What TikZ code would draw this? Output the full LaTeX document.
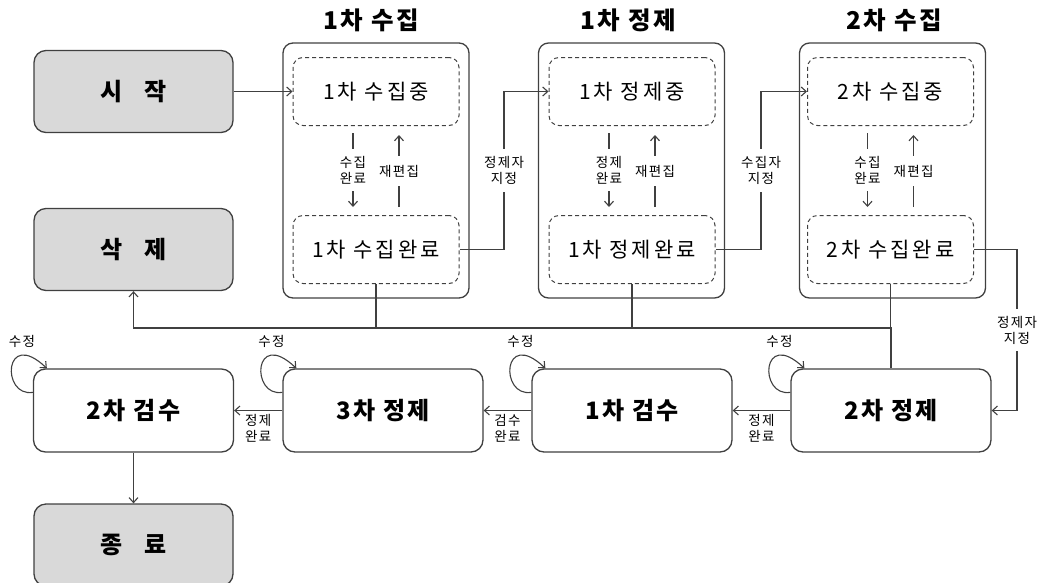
\documentclass[tikz,border=0pt]{standalone}
\usepackage{fontspec}
\setmainfont{Noto Sans CJK KR}
\newfontfamily\wideA{Noto Sans CJK KR}[LetterSpace=10]
\newfontfamily\wideB{Noto Sans CJK KR}[LetterSpace=14]
\usetikzlibrary{arrows.meta}
\definecolor{ln}{HTML}{404040}
\definecolor{gfill}{HTML}{D9D9D9}
\newcommand\kloop[1]{%
  \draw[conn,arr] ([yshift=-24pt]#1.north west) .. controls +(-32,5) and +(-43,-41) .. ([xshift=14pt]#1.north west);
  \node[lbl] (#1-lp) at ([xshift=-11pt,yshift=27pt]#1.north west) {수정};}
\begin{document}
\begin{tikzpicture}[x=1pt,y=-1pt,
  arr/.style={-{Straight Barb[length=5pt,width=9pt]}},
  conn/.style={draw=ln, line width=1.1pt},
  graybox/.style={draw=ln, line width=1.3pt, fill=gfill, rounded corners=12pt, minimum width=199pt, minimum height=82pt, font=\wideA\fontsize{24}{28}\selectfont\bfseries},
  group/.style={draw=ln, line width=1.3pt, rounded corners=10pt, minimum width=186pt, minimum height=255pt},
  dbox/.style={draw=ln, line width=1pt, dash pattern=on 4pt off 3pt, rounded corners=10pt, minimum width=166pt, minimum height=68pt, font=\wideB\fontsize{21}{25}\selectfont},
  state/.style={draw=ln, line width=1.3pt, fill=white, rounded corners=12pt, minimum width=200pt, minimum height=83pt, font=\wideA\fontsize{24}{28}\selectfont\bfseries},
  title/.style={font=\wideA\fontsize{24.5}{28}\selectfont\bfseries},
  lbl/.style={font=\wideA\fontsize{13.5}{16}\selectfont, align=center, text=black, inner sep=1pt},
  gap/.style={lbl, fill=white, inner ysep=7pt}
]
\useasboundingbox (0,0) rectangle (1039,582);

% start / delete / end
\node[graybox] (start) at (133.5,91.5) {시\hspace{0.9em}작};
\node[graybox] (del) at (133.5,249.5) {삭\hspace{0.9em}제};
\node[graybox] (end) at (133.5,545) {종\hspace{0.9em}료};

% groups
\node[group] (g1) at (376,170.5) {};
\node[group] (g2) at (631.5,170.5) {};
\node[group] (g3) at (892.5,170.5) {};
\node[title] (t1) at (371,20) {1차 수집};
\node[title] (t2) at (628,20) {1차 정제};
\node[title] (t3) at (894,20) {2차 수집};

\node[dbox] (d1a) at (376,91.5) {1차 수집중};
\node[dbox] (d1b) at (376,249.5) {1차 수집완료};
\node[dbox] (d2a) at (632,91.5) {1차 정제중};
\node[dbox] (d2b) at (632,249.5) {1차 정제완료};
\node[dbox] (d3a) at (890.5,91.5) {2차 수집중};
\node[dbox] (d3b) at (890.5,249.5) {2차 수집완료};

% bottom row
\node[state] (r2) at (133.5,410.5) {2차 검수};
\node[state] (r3) at (383,410.5) {3차 정제};
\node[state] (r1) at (632,410.5) {1차 검수};
\node[state] (r4) at (891,410.5) {2차 정제};

% inner arrows
\foreach \a/\b/\dn in {d1a/d1b/{수집\\완료}, d2a/d2b/{정제\\완료}, d3a/d3b/{수집\\완료}}{
  \draw[conn,arr] ([xshift=-23pt,yshift=-7pt]\a.south) -- node[gap]{\dn} ([xshift=-23pt,yshift=8pt]\b.north);
  \draw[conn,arr] ([xshift=23pt,yshift=8pt]\b.north) -- node[gap,inner ysep=9pt]{재편집} ([xshift=23pt,yshift=-9pt]\a.south);
}

% flow connectors
\coordinate (c1) at (504,249.5);
\coordinate (c2) at (761,249.5);
\coordinate (c3) at (1017,249.5);
\draw[conn,arr] (start.east) -- (d1a.west);
\draw[conn,arr] (d1b.east) -- (c1) |- node[pos=0.25,gap]{정제자\\지정} (d2a.west);
\draw[conn,arr] (d2b.east) -- (c2) |- node[pos=0.25,gap]{수집자\\지정} (d3a.west);
\draw[conn,arr] (d3b.east) -- (c3) |- node[pos=0.25,gap]{정제자\\지정} (r4.east);

% delete bus
\coordinate (busL) at (133.5,328);
\draw[conn,arr] (r4.north) |- (busL) -- (del.south);
\draw[conn] (d1b.south) -- (d1b.south |- busL);
\draw[conn] (d2b.south) -- (d2b.south |- busL);
\draw[conn] (d3b.south) -- (d3b.south |- busL);

% bottom flow
\draw[conn,arr] (r4.west) -- node[lbl,below=2pt]{정제\\완료} (r1.east);
\draw[conn,arr] (r1.west) -- node[lbl,below=2pt]{검수\\완료} (r3.east);
\draw[conn,arr] (r3.west) -- node[lbl,below=2pt]{정제\\완료} (r2.east);
\draw[conn,arr] (r2.south) -- (end.north);

% self loops
\kloop{r2}
\kloop{r3}
\kloop{r1}
\kloop{r4}
\end{tikzpicture}
\end{document}
